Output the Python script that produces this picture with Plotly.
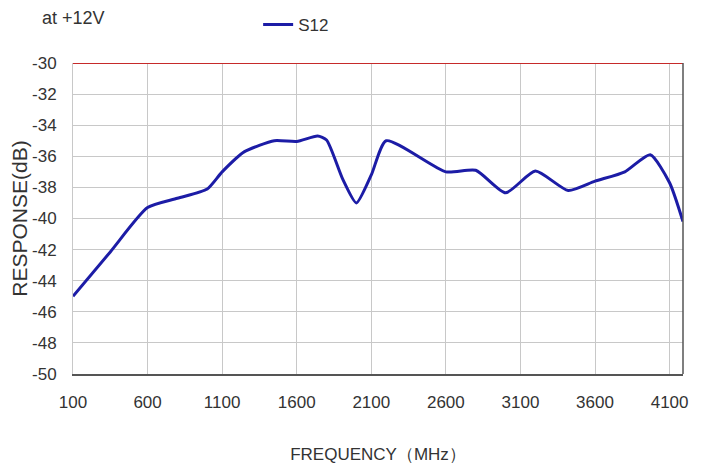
import plotly.graph_objects as go

freq_mhz = [100, 350, 600, 800, 1000, 1100, 1250, 1450, 1600, 1740, 1800, 1910, 2000, 2100, 2200, 2600, 2800, 3000, 3200, 3420, 3600, 3800, 3970, 4100, 4190]
s12_db = [-45.0, -42.15, -39.3, -38.7, -38.1, -37.0, -35.7, -35.0, -35.05, -34.7, -34.95, -37.5, -39.0, -37.2, -35.0, -37.0, -36.9, -38.35, -36.95, -38.2, -37.6, -37.0, -35.9, -37.7, -40.2]
x_ticks = [100, 600, 1100, 1600, 2100, 2600, 3100, 3600, 4100]
y_ticks = [-30, -32, -34, -36, -38, -40, -42, -44, -46, -48, -50]

FONT = "Liberation Sans, Arial, sans-serif"
TXT = "#333333"

fig = go.Figure()
fig.add_trace(go.Scatter(
    x=freq_mhz, y=s12_db, mode="lines", name="S12",
    line=dict(color="#1c1ca6", width=3, shape="spline", smoothing=0.6),
))

fig.update_layout(
    width=703, height=468,
    margin=dict(l=65, r=28, t=55, b=102, autoexpand=False),
    paper_bgcolor="white", plot_bgcolor="white",
    font=dict(family=FONT, color=TXT, size=16),
    showlegend=True,
    legend=dict(x=0.3035, y=1.122, xanchor="left", yanchor="middle",
                font=dict(size=17, color=TXT), bgcolor="rgba(0,0,0,0)"),
    xaxis=dict(
        range=[100, 4190], tickvals=x_ticks, ticktext=[str(v) for v in x_ticks],
        showgrid=True, gridcolor="#c8c8c8", gridwidth=1,
        showline=True, linecolor="#555555", linewidth=2,
        zeroline=False, ticks="", ticklabelstandoff=12,
        tickfont=dict(size=17, color=TXT),
        title=dict(text="FREQUENCY（MHz）", font=dict(size=17, color=TXT), standoff=37),
    ),
    yaxis=dict(
        range=[-50, -30], tickvals=y_ticks, ticktext=[str(v) for v in y_ticks],
        showgrid=True, gridcolor="#c8c8c8", gridwidth=1,
        showline=True, linecolor="#c8c8c8", linewidth=1,
        zeroline=False, ticks="", ticklabelstandoff=12,
        tickfont=dict(size=17, color=TXT),
        title=dict(text="RESPONSE(dB)", font=dict(size=21, color=TXT), standoff=2),
    ),
    shapes=[
        dict(type="line", xref="paper", yref="y", x0=0, x1=1, y0=-30, y1=-30,
             line=dict(color="#c62a2a", width=2)),
        dict(type="line", xref="paper", yref="paper", x0=1, x1=1, y0=0, y1=1,
             line=dict(color="#555555", width=1.5)),
    ],
    annotations=[
        dict(text="at +12V", xref="paper", yref="paper", x=-0.054, y=1.145,
             xanchor="left", yanchor="middle", showarrow=False,
             font=dict(size=18, color=TXT)),
    ],
)

fig.write_html("out.html")
